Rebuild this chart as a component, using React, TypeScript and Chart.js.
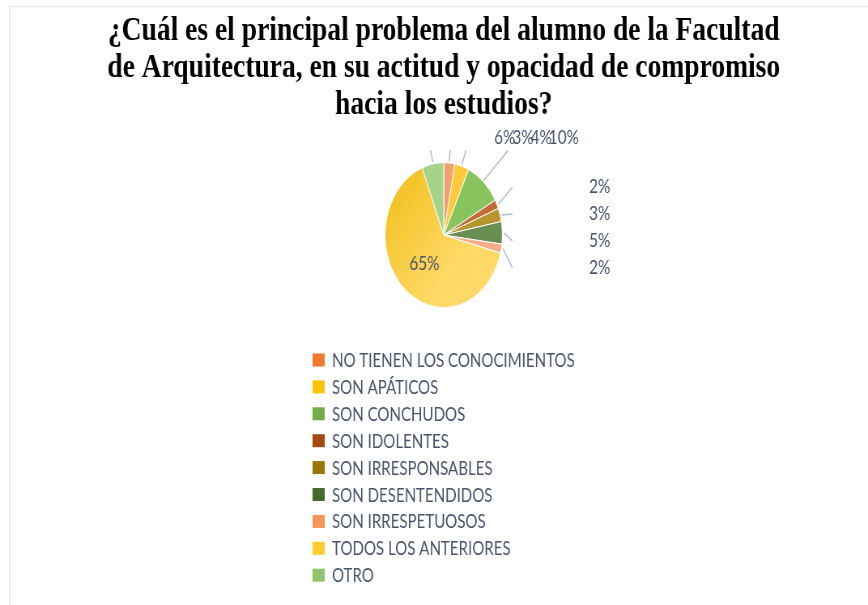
import React, { useEffect, useRef } from 'react';
import { Chart, registerables } from 'chart.js';
Chart.register(...registerables);

const TITLE_LINES = [
  '¿Cuál es el principal problema del alumno de la Facultad',
  'de Arquitectura, en su actitud y opacidad de compromiso',
  'hacia los estudios?',
];
const CATEGORIES = [
  'NO TIENEN LOS CONOCIMIENTOS',
  'SON APÁTICOS',
  'SON CONCHUDOS',
  'SON IDOLENTES',
  'SON IRRESPONSABLES',
  'SON DESENTENDIDOS',
  'SON IRRESPETUOSOS',
  'TODOS LOS ANTERIORES',
  'OTRO',
];
const VALUES = [3, 4, 10, 2, 3, 5, 2, 65, 6];
const PIE_COLORS = ['#F2A06E', '#FFCB3C', '#88C45E', '#C46A34', '#B8962E', '#6A8E52', '#F5AD86', '#FFD45A', '#A6D38A'];
const LEGEND_COLORS = ['#EF7B30', '#FFC20A', '#72AE48', '#A24A12', '#9B7506', '#456A2D', '#F4955C', '#FFCC30', '#8FC46C'];
// label groups (indices into CATEGORIES)
const TOP_GROUP = [8, 0, 1, 2];
const RIGHT_GROUP = [3, 4, 5, 6];
const INSIDE_GROUP = [7];

const SX = 0.81;
const W = 868;
const H = 605;
const IW = Math.round(W / SX);
const FONT = 'Lato';
const TEXT_COLOR = '#48536A';

const pagePlugin = {
  id: 'pagePlugin',
  beforeDraw(chart: any) {
    const ctx = chart.ctx;
    ctx.save();
    ctx.fillStyle = '#ffffff';
    ctx.fillRect(0, 0, chart.width, chart.height);
    ctx.strokeStyle = '#E8EAEE';
    ctx.lineWidth = 1.6;
    ctx.beginPath();
    ctx.moveTo(9 / SX, 6.5);
    ctx.lineTo(chart.width, 6.5);
    ctx.moveTo(9.5 / SX, 6.5);
    ctx.lineTo(9.5 / SX, chart.height);
    ctx.stroke();
    ctx.restore();
  },
  afterDatasetsDraw(chart: any) {
    const ctx = chart.ctx;
    const meta = chart.getDatasetMeta(0);
    const arcs: any[] = meta.data;
    const a0 = arcs[0];
    const cx = a0.x;
    const cy = a0.y;
    const r = a0.outerRadius;
    const mid = (i: number) => (arcs[i].startAngle + arcs[i].endAngle) / 2;
    const lbl = (i: number) => `${VALUES[i]}%`;

    ctx.save();
    ctx.strokeStyle = '#B3BFCF';
    ctx.lineWidth = 1.6;
    // top group leader lines
    TOP_GROUP.forEach((i) => {
      const ang = mid(i);
      const ex = cx + r * Math.cos(ang);
      const ey = cy + r * Math.sin(ang);
      const ty = cy - 1.17 * r;
      const tx = cx + (1.17 * r * Math.cos(ang)) / -Math.sin(ang);
      ctx.beginPath();
      ctx.moveTo(ex, ey - 2);
      ctx.lineTo(tx, ty);
      ctx.stroke();
    });
    // right group leader lines
    RIGHT_GROUP.forEach((i, k) => {
      const ang = mid(i);
      const ex = cx + r * Math.cos(ang);
      const ey = cy + r * Math.sin(ang);
      const ly = cy + r * (-0.66 + k * 0.37);
      ctx.beginPath();
      ctx.moveTo(ex + 2, ey);
      ctx.lineTo(cx + 1.17 * r, ly);
      ctx.stroke();
    });

    ctx.fillStyle = TEXT_COLOR;
    ctx.font = `19px ${FONT}`;
    ctx.textBaseline = 'middle';
    ctx.textAlign = 'left';
    TOP_GROUP.forEach((i, k) => {
      ctx.fillText(lbl(i), cx + r * (0.86 + k * 0.31), cy - 1.34 * r);
    });
    RIGHT_GROUP.forEach((i, k) => {
      ctx.fillText(lbl(i), cx + 2.48 * r, cy + r * (-0.66 + k * 0.37));
    });
    ctx.textAlign = 'center';
    INSIDE_GROUP.forEach((i) => {
      const ang = mid(i);
      ctx.fillText(lbl(i), cx + 0.5 * r * Math.cos(ang), cy + 0.5 * r * Math.sin(ang) + 2);
    });

    // legend
    const ca = chart.chartArea;
    const top = ca.bottom + 52;
    const step = 26.9;
    ctx.textAlign = 'left';
    ctx.font = `18.6px ${FONT}`;
    CATEGORIES.forEach((c, i) => {
      const y = top + i * step;
      ctx.fillStyle = LEGEND_COLORS[i];
      ctx.fillRect(cx - 162, y - 6.5, 15, 13);
      ctx.fillStyle = TEXT_COLOR;
      ctx.fillText(c, cx - 138, y + 1);
    });
    ctx.restore();
  },
};

export default function App() {
  const ref = useRef<HTMLCanvasElement>(null);
  useEffect(() => {
    const canvas = ref.current!;
    const chart = new Chart(canvas, {
      type: 'pie',
      data: {
        labels: CATEGORIES,
        datasets: [
          {
            data: VALUES,
            backgroundColor: (c: any) => {
              const i = c.dataIndex;
              const ca = c.chart.chartArea;
              if (i !== 7 || !ca) return PIE_COLORS[i];
              const cx = (ca.left + ca.right) / 2;
              const r = ca.height / 2;
              const g = c.chart.ctx.createLinearGradient(cx - r, ca.top, cx + 0.4 * r, ca.top + 0.6 * ca.height);
              g.addColorStop(0, '#EFBD12');
              g.addColorStop(1, '#FFD968');
              return g;
            },
            borderColor: '#ffffff',
            borderWidth: 1,
          },
        ],
      },
      options: {
        responsive: false,
        animation: false,
        devicePixelRatio: 1,
        layout: { padding: { left: 124, right: 100, top: 0, bottom: 297 } },
        plugins: {
          legend: { display: false },
          tooltip: { enabled: false },
          title: {
            display: true,
            text: TITLE_LINES,
            color: '#000000',
            font: { family: 'Liberation Serif', size: 34, weight: 'bold', lineHeight: 1.09 },
            padding: { top: 13, bottom: 38 },
          },
        },
      },
      plugins: [pagePlugin],
    } as any);
    return () => chart.destroy();
  }, []);
  return (
    <canvas
      ref={ref}
      width={IW}
      height={H}
      style={{ position: 'fixed', left: 0, top: 0, width: W + 'px', height: H + 'px' }}
    />
  );
}
